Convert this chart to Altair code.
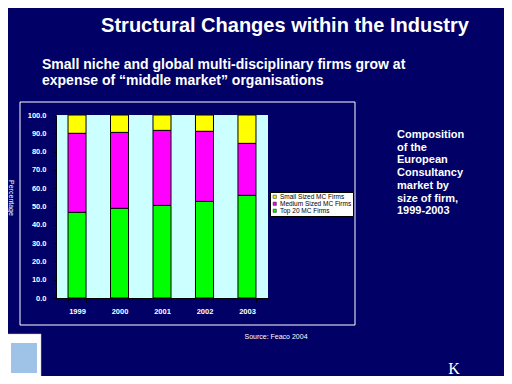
import altair as alt
import pandas as pd

# ---- data ----
years = ["1999", "2000", "2001", "2002", "2003"]
top20 = [46.8, 49.0, 50.6, 52.8, 56.1]
medium = [43.2, 41.5, 41.0, 38.3, 28.4]
small = [10.0, 9.5, 8.4, 8.9, 15.5]
segments = ["Small Sized MC Firms", "Medium Sized MC Firms", "Top 20 MC Firms"]
seg_colors = ["#FFFF00", "#FF00FF", "#00FF00"]
y_ticks = [0, 10, 20, 30, 40, 50, 60, 70, 80, 90, 100]

rows = []
for i, yr in enumerate(years):
    rows.append({"year": yr, "segment": "Top 20 MC Firms", "value": top20[i], "order": 0})
    rows.append({"year": yr, "segment": "Medium Sized MC Firms", "value": medium[i], "order": 1})
    rows.append({"year": yr, "segment": "Small Sized MC Firms", "value": small[i], "order": 2})
df = pd.DataFrame(rows)
one = pd.DataFrame({"k": [0]})

FONT = "Liberation Sans"
NAVY = "#000066"

bars = alt.Chart(df).mark_bar(stroke="black", strokeWidth=1).encode(
    x=alt.X("year:N",
            scale=alt.Scale(paddingInner=0.576, paddingOuter=0.283),
            axis=alt.Axis(title=None, labelAngle=0, tickBand="extent", tickSize=4,
                          labelPadding=5, labelFontSize=7.5, labelFontWeight="bold")),
    y=alt.Y("value:Q", stack="zero",
            scale=alt.Scale(domain=[0, 100], nice=False),
            axis=alt.Axis(values=y_ticks, format=".1f", title=None, tickSize=3,
                          labelPadding=7, labelFontSize=7.5, labelFontWeight="bold")),
    color=alt.Color("segment:N",
                    scale=alt.Scale(domain=segments, range=seg_colors),
                    legend=alt.Legend(orient="none", legendX=214, legendY=77, title=None,
                                      fillColor="white", strokeColor="black", padding=1.5,
                                      rowPadding=0, symbolType="square", symbolSize=10,
                                      symbolStrokeColor="black", symbolStrokeWidth=0.5,
                                      symbolOffset=0, labelOffset=2,
                                      labelFontSize=6.5, labelColor="black", labelFont=FONT)),
    order=alt.Order("order:Q"),
)


def txt(text, x, y, size, weight="bold", align="left", baseline="alphabetic",
        font=FONT, angle=0, line_height=None):
    kw = dict(align=align, baseline=baseline, font=font, fontSize=size,
              fontWeight=weight, color="white", lineBreak="\n")
    if angle:
        kw["angle"] = angle
    if line_height:
        kw["lineHeight"] = line_height
    return alt.Chart(one).mark_text(**kw).encode(
        x=alt.value(x), y=alt.value(y), text=alt.value(text))


frame = alt.Chart(one).mark_rect(fill="transparent", stroke="white", strokeWidth=1).encode(
    x=alt.value(-36), x2=alt.value(299), y=alt.value(-13), y2=alt.value(210))
logo = alt.Chart(one).mark_rect(fill="white", stroke="#c0c0c0", strokeWidth=0.5).encode(
    x=alt.value(-49), x2=alt.value(-15), y=alt.value(219), y2=alt.value(264))
logo_in = alt.Chart(one).mark_rect(fill="#9fc3e6").encode(
    x=alt.value(-45), x2=alt.value(-19), y=alt.value(228), y2=alt.value(258))

title = txt("Structural Changes within the Industry", 229, -83, 20, align="center")
sub = txt("Small niche and global multi-disciplinary firms grow at\nexpense of \u201cmiddle market\u201d organisations",
          -14, -46, 14, line_height=16)
side = txt("Composition\nof the\nEuropean\nConsultancy\nmarket by\nsize of firm,\n1999-2003",
           341, 23, 11, line_height=12.7)
ylab = txt("Percentage", -45, 83, 7, weight="normal", align="center", baseline="middle", angle=90)
source = txt("Source: Feaco 2004", 220, 222, 7, weight="normal", align="center", baseline="middle")
kmark = txt("K", 398, 259, 16, weight="normal", align="center", font="Liberation Serif")

chart = alt.layer(frame, logo, logo_in, bars, title, sub, side, ylab, source, kmark).properties(
    width=212, height=183,
    autosize=alt.AutoSizeParams(type="none"),
    padding={"left": 48, "top": 107, "right": 236, "bottom": 78},
    background=NAVY,
).configure_view(fill="#CCFFFF", stroke=None).configure_axis(
    labelColor="white", labelFont=FONT, domainColor="black", tickColor="black", grid=False
)

chart.save("out.html", embed_options={"renderer": "svg", "actions": False})
